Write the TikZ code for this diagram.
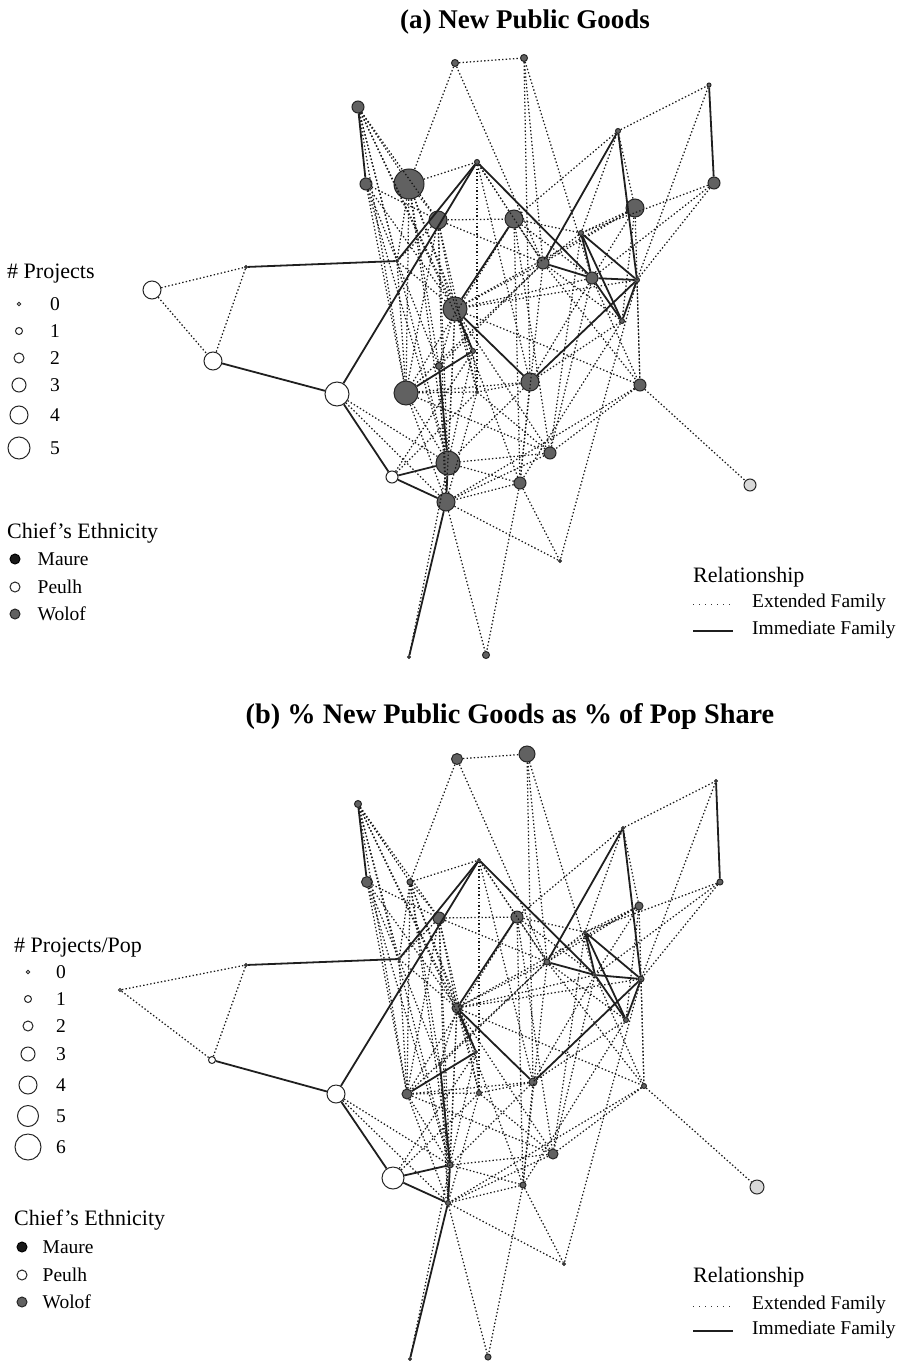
\documentclass[tikz,border=0pt]{standalone}
\usepackage{fontspec}
\setmainfont{Liberation Serif}
\usepackage{tikz}
\usetikzlibrary{positioning}

\begin{document}
\begin{tikzpicture}[
    x=1pt, y=-1pt,
    mywolof/.style={draw=black!85, fill=black!62, circle, line width=1pt, inner sep=0pt},
    mypeulh/.style={draw=black!85, fill=white, circle, line width=1pt, inner sep=0pt},
    myother/.style={draw=black!85, fill=black!15, circle, line width=1pt, inner sep=0pt},
    mymaure/.style={draw=black, fill=black!90, circle, line width=1pt, inner sep=0pt},
    myext/.style={black!90, line width=1.25pt, dash pattern=on 1.4pt off 2.2pt},
    mylegext/.style={black!80, line width=0.9pt, dash pattern=on 1pt off 5pt},
    myimm/.style={black!88, line width=1.8pt},
    mytitle/.style={font=\fontsize{27}{32}\selectfont\bfseries},
    myhead/.style={font=\fontsize{22}{26}\selectfont, anchor=west, inner sep=0pt},
    myentry/.style={font=\fontsize{19.5}{23}\selectfont, anchor=west, inner sep=0pt}
]
\useasboundingbox (0,0) rectangle (905,1362);

% titles
\node[mytitle] (titlea) at (525,22) {(a) New Public Goods};
\node[mytitle, font=\fontsize{28.3}{33}\selectfont\bfseries] (titleb) at (510,717) {(b) \% New Public Goods as \% of Pop Share};

% panel (a) villages
\foreach \nm/\px/\py/\dm/\st in {
    1/455/63/7/mywolof, 2/524/58/7/mywolof, 3/358/107/12/mywolof, 4/366/184/12/mywolof,
    5/409/184/30/mywolof, 6/477/162/5/mywolof, 7/438/220/18/mywolof, 8/514/219/18/mywolof,
    9/618/131/5/mywolof, 10/635/208/18/mywolof, 11/581/233/5/mywolof, 12/543/263/12/mywolof,
    13/592/278/12/mywolof, 14/637/280/5/mywolof, 15/397/261/3/mywolof, 16/709/85/4/mywolof,
    17/714/183/12/mywolof, 18/152/290/18/mypeulh, 19/246/267/3/mywolof, 20/213/361/18/mypeulh,
    21/337/394/24/mypeulh, 22/406/393/24/mywolof, 23/439/366/7/mywolof, 24/455/309/24/mywolof,
    25/392/477/12/mypeulh, 27/622/321/5/mywolof, 28/473/351/5/mywolof, 29/530/382/18/mywolof,
    30/640/385/12/mywolof, 31/550/453/12/mywolof, 32/520/483/12/mywolof, 33/750/485/12/myother,
    34/477/392/3/mywolof, 35/448/463/24/mywolof, 36/446/502/18/mywolof, 37/560/561/3/mywolof,
    38/409/657/3/mywolof, 39/486/655/7/mywolof}
    \node[\st, minimum size=\dm pt] (a\nm) at (\px,\py) {};

% panel (b) villages
\foreach \nm/\px/\py/\dm/\st in {
    1/457/759/11/mywolof, 2/527/754/16/mywolof, 3/358/804/7/mywolof, 4/367/882/11/mywolof,
    5/410/882/6/mywolof, 6/479/860/3/mywolof, 7/439/918/12/mywolof, 8/517/917/12/mywolof,
    9/623/828/3/mywolof, 10/639/906/8/mywolof, 11/585/932/3/mywolof, 12/547/962/6/mywolof,
    13/595/975/3/mywolof, 14/641/979/6/mywolof, 15/399/959/3/mywolof, 16/716/781/3/mywolof,
    17/720/882/6/mywolof, 18/120/990/3/mypeulh, 19/246/965/3/mywolof, 20/212/1060/7/mypeulh,
    21/336/1094/18/mypeulh, 22/407/1094/10/mywolof, 23/440/1065/3/mywolof, 24/457/1008/10/mywolof,
    25/393/1178/22/mypeulh, 27/626/1020/5/mywolof, 28/476/1052/3/mywolof, 29/533/1082/8/mywolof,
    30/644/1086/5/mywolof, 31/553/1154/10/mywolof, 32/523/1185/6/mywolof, 33/757/1187/14/myother,
    34/479/1093/5/mywolof, 35/450/1165/6/mywolof, 36/448/1203/5/mywolof, 37/564/1264/3/mywolof,
    38/410/1359/3/mywolof, 39/488/1357/6/mywolof}
    \node[\st, minimum size=\dm pt] (b\nm) at (\px,\py) {};

% extended family ties
\foreach \p in {a,b} {
\foreach \u/\v in {1/2, 1/5, 1/12, 2/12, 2/29, 2/13, 3/5, 3/7, 3/15, 3/22, 3/24, 3/28, 3/35,
    4/15, 4/22, 4/7, 4/35, 4/24, 5/6, 5/15, 5/7, 5/24, 5/22, 5/35, 5/28, 5/23,
    6/34, 6/8, 6/12, 6/29, 7/8, 7/12, 7/24, 7/15, 7/22, 7/35, 7/34, 7/36,
    8/11, 8/12, 8/31, 8/13, 8/9, 8/32, 8/22, 9/16, 9/10, 9/11,
    10/11, 10/13, 10/30, 10/27, 10/12, 10/24, 11/12, 11/31, 17/14, 17/11, 16/14, 17/13,
    12/24, 12/22, 12/32, 12/27, 12/30, 13/30, 13/31, 13/29, 13/24, 14/30, 14/37, 14/24,
    18/19, 18/20, 19/20, 21/36, 21/35, 22/35, 22/29, 22/31, 22/36, 22/15, 22/34,
    23/15, 23/24, 23/36, 23/12, 24/31, 24/32, 24/30, 24/36, 24/35, 24/34, 24/15,
    25/28, 25/34, 29/32, 29/35, 29/34, 29/27, 30/31, 30/33, 30/36, 31/35, 31/36, 31/34,
    32/36, 32/37, 32/39, 32/35, 36/37, 36/39, 36/34, 38/35, 35/28, 34/28, 27/32}
    \draw[myext] (\p\u) -- (\p\v);
}

% immediate family ties
\foreach \p in {a,b} {
\foreach \u/\v in {3/4, 16/17, 19/15, 15/6, 6/21, 6/13, 12/13, 12/9, 9/14, 11/13, 11/14,
    11/27, 13/27, 13/14, 14/27, 14/29, 24/29, 24/8, 24/28, 28/22, 23/35, 21/20, 21/25,
    25/35, 25/36, 35/36, 36/38}
    \draw[myimm] (\p\u) -- (\p\v);
}

% legend (a)
\node[myhead] (proja) at (7,274) {\# Projects};
\foreach \k/\py/\dm in {0/304/3.5, 1/331/7, 2/358/10, 3/385/14, 4/415/18, 5/448/22} {
    \node[mypeulh, minimum size=\dm pt] (pa\k) at (19,\py) {};
    \node[myentry] (la\k) at (50,\py) {\k};
}
\node[myhead] (chiefa) at (7,533) {Chief's Ethnicity};
\node[mymaure, minimum size=10pt] (maurea) at (15,559) {};
\node[mypeulh, minimum size=10pt] (peulha) at (15,587) {};
\node[mywolof, minimum size=10pt] (wolofa) at (15,614) {};
\node[myentry, right=17pt of maurea] {Maure};
\node[myentry, right=17pt of peulha] {Peulh};
\node[myentry, right=17pt of wolofa] {Wolof};

\node[myhead] (relya) at (693,577) {Relationship};
\coordinate (exta1) at (693,604);
\coordinate (exta2) at (733,604);
\coordinate (imma1) at (693,631);
\coordinate (imma2) at (733,631);
\draw[mylegext] (exta1) -- (exta2);
\draw[myimm, line width=1.4pt] (imma1) -- (imma2);
\node[myentry] at (752,603) {Extended Family};
\node[myentry] at (752,630) {Immediate Family};

% legend (b)
\node[myhead] (projb) at (14,948) {\# Projects/Pop};
\foreach \k/\py/\dm in {0/972/3.5, 1/999/7, 2/1026/10, 3/1054/14, 4/1085/18, 5/1116/21, 6/1147/26} {
    \node[mypeulh, minimum size=\dm pt] (pb\k) at (28,\py) {};
    \node[myentry] (lb\k) at (56,\py) {\k};
}
\node[myhead] (chiefb) at (14,1220) {Chief's Ethnicity};
\node[mymaure, minimum size=10pt] (maureb) at (22,1247) {};
\node[mypeulh, minimum size=10pt] (peulhb) at (22,1275) {};
\node[mywolof, minimum size=10pt] (wolofb) at (22,1302) {};
\node[myentry, right=15pt of maureb] {Maure};
\node[myentry, right=15pt of peulhb] {Peulh};
\node[myentry, right=15pt of wolofb] {Wolof};

\node[myhead] (relyb) at (693,1277) {Relationship};
\coordinate (extb1) at (693,1306);
\coordinate (extb2) at (733,1306);
\coordinate (immb1) at (693,1331);
\coordinate (immb2) at (733,1331);
\draw[mylegext] (extb1) -- (extb2);
\draw[myimm, line width=1.4pt] (immb1) -- (immb2);
\node[myentry] at (752,1305) {Extended Family};
\node[myentry] at (752,1330) {Immediate Family};
\end{tikzpicture}
\end{document}
